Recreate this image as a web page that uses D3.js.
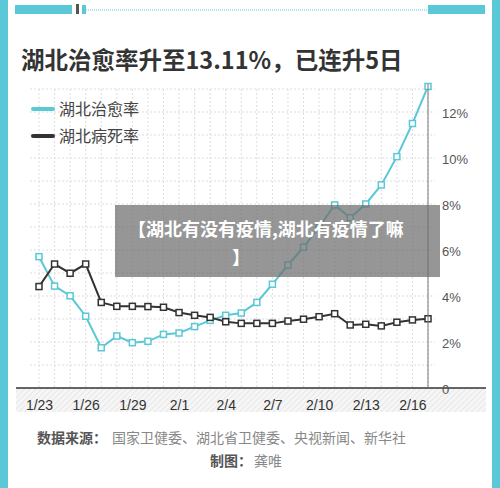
<!DOCTYPE html>
<html><head><meta charset="utf-8">
<script src="https://cdn.jsdelivr.net/npm/d3@7/dist/d3.min.js"></script>
<style>body{margin:0;background:#fff}svg{display:block;font-family:"Noto Sans CJK SC","Noto Sans",sans-serif}</style>
</head><body>
<script>
const dates = ["1/23","1/24","1/25","1/26","1/27","1/28","1/29","1/30","1/31","2/1","2/2","2/3","2/4","2/5","2/6","2/7","2/8","2/9","2/10","2/11","2/12","2/13","2/14","2/15","2/16","2/17"];
const cureRate = [5.71,4.43,4.01,3.12,1.75,2.26,1.97,2.03,2.33,2.39,2.67,2.94,3.16,3.26,3.72,4.51,5.35,6.12,7.0,7.96,7.4,8.0,8.83,10.06,11.5,13.11];
const deathRate = [4.41,5.39,4.99,5.39,3.72,3.55,3.55,3.54,3.51,3.28,3.16,3.07,2.88,2.81,2.81,2.81,2.91,2.99,3.1,3.23,2.74,2.77,2.70,2.86,2.96,3.01];
const xTicks = ["1/23","1/26","1/29","2/1","2/4","2/7","2/10","2/13","2/16"];
const yTicks = [0,2,4,6,8,10,12];
const seriesNames = ["湖北治愈率","湖北病死率"];
const colors = ["#5ac8d6","#333333"];

const W=500,H=488;
const svg=d3.select("body").append("svg").attr("width",W).attr("height",H);
svg.append("rect").attr("x",0).attr("y",0).attr("width",W).attr("height",H).attr("fill","#5ac8d6");
svg.append("rect").attr("x",8).attr("y",0).attr("width",484).attr("height",H).attr("fill","#fff");
svg.append("rect").attr("x",15).attr("y",5).attr("width",57).attr("height",9).attr("fill","#5ac8d6");
svg.append("rect").attr("x",82).attr("y",5).attr("width",4).attr("height",9).attr("fill","#5ac8d6");
svg.append("rect").attr("x",76).attr("y",4).attr("width",3).attr("height",10).attr("fill","#555");
svg.append("line").attr("x1",86).attr("x2",428).attr("y1",10).attr("y2",10).attr("stroke","#5ac8d6").attr("stroke-dasharray","1,1");
svg.append("rect").attr("x",428).attr("y",5).attr("width",57).attr("height",9).attr("fill","#5ac8d6");

svg.append("text").attr("x",21).attr("y",69).attr("font-size",23.5).attr("font-weight","bold").attr("fill","#333").text("湖北治愈率升至13.11%，已连升5日");

const x=d3.scalePoint().domain(dates).range([39,428]);
const y=d3.scaleLinear().domain([0,13]).range([388,89]);

const g=svg.append("g");
g.selectAll(".hg").data(d3.range(1,14)).join("line").attr("x1",30).attr("x2",435).attr("y1",d=>y(d)).attr("y2",d=>y(d)).attr("stroke","#ddd").attr("stroke-dasharray","2,2");
g.selectAll(".vg").data(dates).join("line").attr("x1",d=>x(d)).attr("x2",d=>x(d)).attr("y1",89).attr("y2",388).attr("stroke","#ddd").attr("stroke-dasharray","2,2");

const defs=svg.append("defs");
const p=defs.append("pattern").attr("id","hatch").attr("width",4).attr("height",4).attr("patternUnits","userSpaceOnUse").attr("patternTransform","rotate(45)");
p.append("rect").attr("width",4).attr("height",4).attr("fill","#f6f6f6");
p.append("line").attr("x1",0).attr("x2",0).attr("y1",0).attr("y2",4).attr("stroke","#e2e2e2").attr("stroke-width",1.5);
svg.append("rect").attr("x",16).attr("y",388).attr("width",470).attr("height",24).attr("fill","url(#hatch)");
svg.append("line").attr("x1",16).attr("x2",486).attr("y1",388).attr("y2",388).attr("stroke","#333").attr("stroke-width",1.5);
svg.append("line").attr("x1",428).attr("x2",428).attr("y1",84).attr("y2",388).attr("stroke","#777").attr("stroke-width",1);

const xa=svg.append("g").attr("transform","translate(0,388)").call(d3.axisBottom(x).tickValues(xTicks).tickSize(0).tickPadding(12));
xa.select(".domain").remove();
xa.selectAll("text").attr("font-size",14).attr("fill","#333").attr("font-family","'Liberation Sans',sans-serif");
const ya=svg.append("g").attr("transform","translate(442,0)").call(d3.axisRight(y).tickValues(yTicks).tickSize(0).tickPadding(0).tickFormat(d=>d===0?"0":d+"%"));
ya.select(".domain").remove();
ya.selectAll("text").attr("font-size",13).attr("fill","#555").attr("dy","0.4em").attr("font-family","'Liberation Sans',sans-serif");

[cureRate,deathRate].forEach((vals,i)=>{
  const data=dates.map((d,j)=>({d,v:vals[j]}));
  g.append("path").datum(data).attr("fill","none").attr("stroke",colors[i]).attr("stroke-width",2)
   .attr("d",d3.line().x(p=>x(p.d)).y(p=>y(p.v)));
  g.selectAll(null).data(data).join("rect").attr("x",p=>x(p.d)-3).attr("y",p=>y(p.v)-3).attr("width",6).attr("height",6)
   .attr("fill","#fff").attr("stroke",colors[i]).attr("stroke-width",1.5);
});

seriesNames.forEach((n,i)=>{
  const ly=109+i*27;
  svg.append("line").attr("x1",33).attr("x2",53).attr("y1",ly).attr("y2",ly).attr("stroke",colors[i]).attr("stroke-width",4).attr("stroke-linecap","round");
  svg.append("text").attr("x",59).attr("y",ly+6).attr("font-size",16).attr("fill","#444").text(n);
});

svg.append("rect").attr("x",115).attr("y",205).attr("width",325).attr("height",72).attr("fill","rgba(110,110,110,0.72)");
svg.append("text").attr("x",128).attr("y",236).attr("font-size",18).attr("font-weight","bold").attr("fill","#fff").text("【湖北有没有疫情,湖北有疫情了嘛");
svg.append("text").attr("x",232).attr("y",264).attr("font-size",18).attr("font-weight","bold").attr("fill","#fff").text("】");

svg.append("text").attr("x",37).attr("y",443).attr("font-size",14).attr("fill","#555").attr("font-weight","bold").text("数据来源：");
svg.append("text").attr("x",112).attr("y",443).attr("font-size",14).attr("fill","#888").text("国家卫健委、湖北省卫健委、央视新闻、新华社");
svg.append("text").attr("x",210).attr("y",466).attr("font-size",14).attr("fill","#555").attr("font-weight","bold").text("制图：");
svg.append("text").attr("x",254).attr("y",466).attr("font-size",14).attr("fill","#888").text("龚唯");
</script>
</body></html>
